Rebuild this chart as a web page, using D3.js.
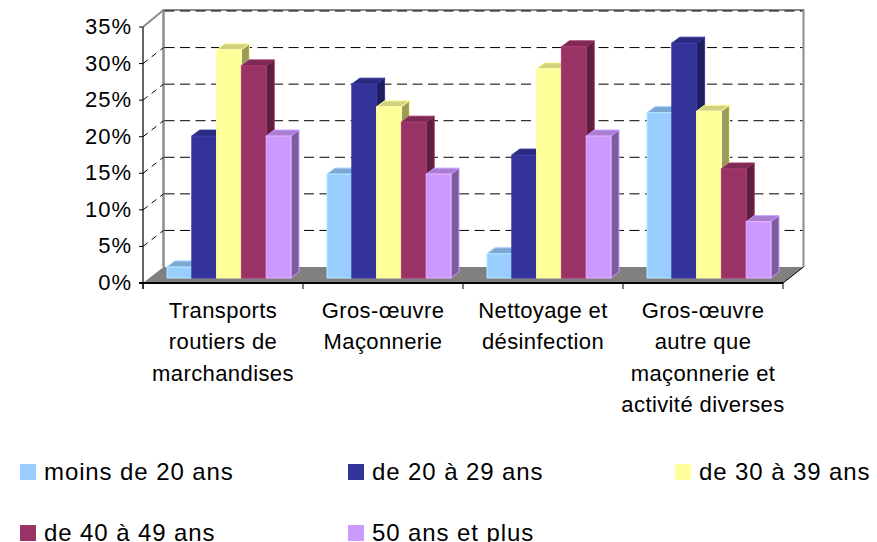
<!DOCTYPE html>
<html>
<head>
<meta charset="utf-8">
<script src="https://cdn.jsdelivr.net/npm/d3@7"></script>
<style>
  html, body { margin: 0; padding: 0; background: #fff; }
  svg { display: block; }
  text { font-family: "Liberation Sans", Arial, sans-serif; fill: #000; }
</style>
</head>
<body>
<div id="chart"></div>
<script>
const categories = [
  ["Transports", "routiers de", "marchandises"],
  ["Gros-œuvre", "Maçonnerie"],
  ["Nettoyage et", "désinfection"],
  ["Gros-œuvre", "autre que", "maçonnerie et", "activité diverses"],
];
const seriesNames = ["moins de 20 ans", "de 20 à 29 ans", "de 30 à 39 ans", "de 40 à 49 ans", "50 ans et plus"];
const moins20 = [1.5, 14.2, 3.3, 22.6];
const de20a29 = [19.4, 26.5, 16.8, 32.1];
const de30a39 = [31.2, 23.4, 28.6, 22.8];
const de40a49 = [29.0, 21.3, 31.6, 14.9];
const plus50 = [19.4, 14.2, 19.4, 7.7];
const seriesValues = [moins20, de20a29, de30a39, de40a49, plus50];
const colors = ["#99ccff", "#333399", "#ffff99", "#993366", "#cc99ff"];
const yTicks = [0, 5, 10, 15, 20, 25, 30, 35];

const width = 877;
const height = 542;

const svg = d3.select("#chart").append("svg").attr("width", width).attr("height", height);

/* front plane of the 3d box, the back wall is shifted by depth */
const xScale = d3.scaleBand().domain(d3.range(categories.length)).range([143, 783]);
const yScale = d3.scaleLinear().domain([0, 35]).range([283, 27]);
const depth = { x: 20.5, y: -16 };

/* where the bars stand inside the box */
const barShift = { x: 6, y: -5 };
const barDepth = { x: 8, y: -6 };
const inner = d3.scaleBand().domain(d3.range(seriesNames.length)).range([18, 142]);

const line = (x1, y1, x2, y2) =>
  svg.append("line").attr("x1", x1).attr("y1", y1).attr("x2", x2).attr("y2", y2);

const [x0, x1] = xScale.range();
const y0 = yScale(0);
const yTop = yScale(35);

// floor
svg.append("polygon")
  .attr("points", [[x0, y0], [x1, y0], [x1 + depth.x, y0 + depth.y], [x0 + depth.x, y0 + depth.y]].join(" "))
  .attr("fill", "#808080");

// wall edges
const edge = "#8c8c8c";
svg.append("polyline")
  .attr("points", [[x0, yTop], [x0 + depth.x, yTop + depth.y - 1], [x1 + depth.x, yTop + depth.y - 1], [x1 + depth.x, y0 + depth.y]].join(" "))
  .attr("fill", "none").attr("stroke", edge).attr("stroke-width", 2);
line(x0 + depth.x, yTop + depth.y, x0 + depth.x, y0 + depth.y).attr("stroke", edge).attr("stroke-width", 2.5);

// grid lines on both walls
yTicks.slice(1).forEach((t) => {
  const y = yScale(t);
  line(x0 + depth.x + 1, y + depth.y, x1 + depth.x - 1, y + depth.y)
    .attr("stroke", "#000").attr("stroke-width", 1).attr("stroke-dasharray", "10 5.5");
  if (t !== 35) {
    line(x0, y, x0 + depth.x, y + depth.y)
      .attr("stroke", "#000").attr("stroke-width", 1).attr("stroke-dasharray", "6 5");
  }
});

// bars, one group after the other so the later ones cover the earlier ones
categories.forEach((c, i) => {
  seriesValues.forEach((values, s) => {
    const bx = xScale(i) + barShift.x + inner(s);
    const bw = inner.bandwidth();
    const top = yScale(values[i]) + barShift.y;
    const bottom = y0 + barShift.y;
    const base = d3.color(colors[s]);
    const g = svg.append("g").attr("class", "bar").attr("stroke", base.formatHex()).attr("stroke-width", 1);
    // top face
    g.append("polygon")
      .attr("points", [[bx, top], [bx + bw, top], [bx + bw + barDepth.x, top + barDepth.y], [bx + barDepth.x, top + barDepth.y]].join(" "))
      .attr("fill", base.darker(0.55));
    // side face
    g.append("polygon")
      .attr("points", [[bx + bw, top], [bx + bw + barDepth.x, top + barDepth.y], [bx + bw + barDepth.x, bottom + barDepth.y], [bx + bw, bottom]].join(" "))
      .attr("fill", base.darker(1.4));
    // front face
    g.append("rect")
      .attr("x", bx).attr("y", top).attr("width", bw).attr("height", bottom - top)
      .attr("fill", base.formatHex())
      .attr("stroke", base.brighter(0.4));
  });
});

// black axes in front
const axisG = svg.append("g").attr("stroke", "#000");
axisG.append("line").attr("x1", x0).attr("y1", yTop).attr("x2", x0).attr("y2", y0 + 6).attr("stroke-width", 1.2);
axisG.append("line").attr("x1", x0 - 4).attr("y1", y0).attr("x2", x1).attr("y2", y0).attr("stroke-width", 2);
axisG.append("line").attr("x1", x1).attr("y1", y0).attr("x2", x1 + depth.x).attr("y2", y0 + depth.y).attr("stroke-width", 1);
axisG.selectAll(".ytick").data(yTicks).join("line").attr("class", "ytick")
  .attr("x1", x0 - 4).attr("x2", x0).attr("y1", (d) => yScale(d)).attr("y2", (d) => yScale(d)).attr("stroke-width", 1);
axisG.selectAll(".xtick").data(d3.range(categories.length + 1)).join("line").attr("class", "xtick")
  .attr("x1", (d) => x0 + d * xScale.bandwidth()).attr("x2", (d) => x0 + d * xScale.bandwidth())
  .attr("y1", y0).attr("y2", y0 + 6).attr("stroke-width", 1);

// y labels
svg.selectAll(".ylabel").data(yTicks).join("text").attr("class", "ylabel")
  .attr("x", x0 - 11).attr("y", (d) => yScale(d) + 7)
  .attr("text-anchor", "end").attr("font-size", 22).attr("letter-spacing", 1)
  .text((d) => d + "%");

// category labels
categories.forEach((lines, i) => {
  svg.append("text").attr("class", "cat")
    .attr("text-anchor", "middle").attr("font-size", 22).attr("letter-spacing", 0.4)
    .selectAll("tspan").data(lines).join("tspan")
    .attr("x", xScale(i) + xScale.bandwidth() / 2)
    .attr("y", (d, j) => 318 + j * 31.3)
    .text((d) => d);
});

// legend
const legendX = [20, 348, 675];
const legendY = [464, 525];
const legend = svg.selectAll(".legend").data(seriesNames).join("g").attr("class", "legend")
  .attr("transform", (d, i) => `translate(${legendX[i % 3]},${legendY[Math.floor(i / 3)]})`);
legend.append("rect").attr("width", 16).attr("height", 16).attr("fill", (d, i) => colors[i]);
legend.append("text").attr("x", 24).attr("y", 15.5).attr("font-size", 24).attr("letter-spacing", 0.9).text((d) => d);
</script>
</body>
</html>
